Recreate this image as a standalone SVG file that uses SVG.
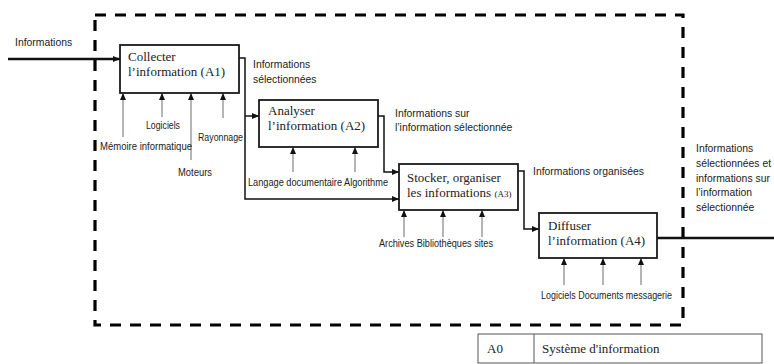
<svg xmlns="http://www.w3.org/2000/svg" width="774" height="364" viewBox="0 0 774 364">
<defs>
<marker id="ah" markerWidth="7" markerHeight="6" refX="7" refY="3" orient="auto" markerUnits="userSpaceOnUse"><path d="M0,0 L7,3 L0,6 z" fill="#111"/></marker>
<style>
.box{fill:#fff;stroke:#1a1a1a;stroke-width:1.8}
.bt{font-family:"Liberation Serif",serif;font-size:13px;fill:#222}
.lb{font-family:"Liberation Sans",Arial,sans-serif;font-size:10.4px;fill:#222}
.cl{font-family:"Liberation Sans",Arial,sans-serif;font-size:10px;fill:#222}
.conn{fill:none;stroke:#111;stroke-width:1.5}
.thick{fill:none;stroke:#111;stroke-width:2.5}
.ctl{fill:none;stroke:#777;stroke-width:1.1}
.border{fill:none;stroke:#000;stroke-width:3.2;stroke-dasharray:11 9}
</style>
</defs>
<rect class="border" x="95" y="15" width="588" height="310"/>
<g id="connectors">
<path class="thick" d="M8,59 H120" marker-end="url(#ah)"/>
<path class="conn" d="M239,58 H245 V199 H399" marker-end="url(#ah)"/>
<path class="conn" d="M245,116 H259" marker-end="url(#ah)"/>
<path class="conn" d="M378,116 H384 V172 H399" marker-end="url(#ah)"/>
<path class="conn" d="M518,171 H524 V229 H539" marker-end="url(#ah)"/>
<path class="thick" d="M657,238 H774"/>
<path class="ctl" d="M123,137 V93" marker-end="url(#ah)"/>
<path class="ctl" d="M162,117 V93" marker-end="url(#ah)"/>
<path class="ctl" d="M191,160 V93" marker-end="url(#ah)"/>
<path class="ctl" d="M223,118 V93" marker-end="url(#ah)"/>
<path class="ctl" d="M293,172 V147" marker-end="url(#ah)"/>
<path class="ctl" d="M355,172 V147" marker-end="url(#ah)"/>
<path class="ctl" d="M404,237 V210" marker-end="url(#ah)"/>
<path class="ctl" d="M443,237 V210" marker-end="url(#ah)"/>
<path class="ctl" d="M482,237 V210" marker-end="url(#ah)"/>
<path class="ctl" d="M564,285 V258" marker-end="url(#ah)"/>
<path class="ctl" d="M603,285 V258" marker-end="url(#ah)"/>
<path class="ctl" d="M641,285 V258" marker-end="url(#ah)"/>
</g>
<g id="A1">
<rect class="box" x="120" y="45" width="119" height="48"/>
<text class="bt" x="128" y="61">Collecter</text>
<text class="bt" x="128" y="76">l’information (A1)</text>
</g>
<g id="A2">
<rect class="box" x="259" y="100" width="119" height="47"/>
<text class="bt" x="268" y="115">Analyser</text>
<text class="bt" x="268" y="130">l’information (A2)</text>
</g>
<g id="A3">
<rect class="box" x="399" y="164" width="119" height="46"/>
<text class="bt" x="407" y="182">Stocker, organiser</text>
<text class="bt" x="407" y="197">les informations <tspan font-size="9">(A3)</tspan></text>
</g>
<g id="A4">
<rect class="box" x="539" y="213" width="118" height="45"/>
<text class="bt" x="548" y="230">Diffuser</text>
<text class="bt" x="548" y="245">l’information (A4)</text>
</g>
<g id="labels">
<text class="lb" x="15" y="46">Informations</text>
<text class="lb" x="253" y="68">Informations</text>
<text class="lb" x="253" y="83">sélectionnées</text>
<text class="lb" x="395" y="117">Informations sur</text>
<text class="lb" x="395" y="131">l’information sélectionnée</text>
<text class="lb" x="533" y="175">Informations organisées</text>
<text class="lb" x="696" y="152">Informations</text>
<text class="lb" x="696" y="167">sélectionnées et</text>
<text class="lb" x="696" y="182">informations sur</text>
<text class="lb" x="696" y="196">l’information</text>
<text class="lb" x="696" y="211">sélectionnée</text>
<text class="cl" x="146" y="129" textLength="34" lengthAdjust="spacingAndGlyphs">Logiciels</text>
<text class="cl" x="100" y="150" textLength="92" lengthAdjust="spacingAndGlyphs">Mémoire informatique</text>
<text class="cl" x="198" y="141" textLength="45" lengthAdjust="spacingAndGlyphs">Rayonnage</text>
<text class="cl" x="178" y="176" textLength="34" lengthAdjust="spacingAndGlyphs">Moteurs</text>
<text class="cl" x="248" y="186" textLength="140" lengthAdjust="spacingAndGlyphs">Langage documentaire Algorithme</text>
<text class="cl" x="379" y="247" textLength="114" lengthAdjust="spacingAndGlyphs">Archives Bibliothèques sites</text>
<text class="cl" x="541" y="299" textLength="131" lengthAdjust="spacingAndGlyphs">Logiciels Documents messagerie</text>
</g>
<g id="A0">
<rect x="478" y="334" width="284" height="29" fill="#fff" stroke="#555" stroke-width="1"/>
<line x1="534" y1="334" x2="534" y2="363" stroke="#555" stroke-width="1"/>
<text class="bt" x="487" y="353" font-size="12">A0</text>
<text class="bt" x="542" y="353" font-size="12">Système d'information</text>
</g>
</svg>
